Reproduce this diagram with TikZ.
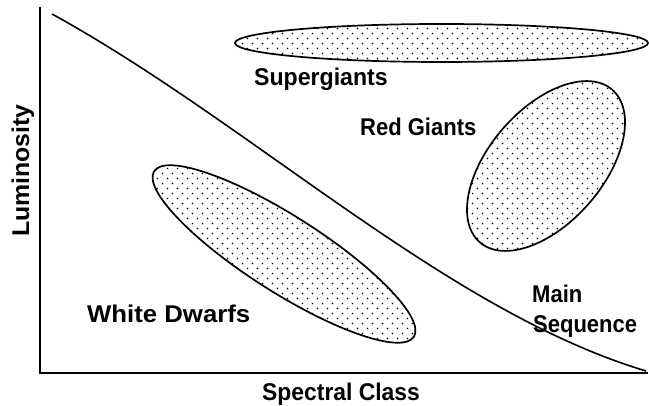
\documentclass[tikz,border=0pt]{standalone}
\usepackage{fontspec}
\setmainfont{Liberation Sans}
\usepackage{graphicx}
\usetikzlibrary{shapes.geometric,patterns}
\pgfdeclarepatternformonly{sparsedots}{\pgfpoint{-1pt}{-1pt}}{\pgfpoint{11pt}{11pt}}{\pgfpoint{10pt}{10pt}}{%
  \pgfpathcircle{\pgfpoint{2.5pt}{2.5pt}}{0.85pt}%
  \pgfpathcircle{\pgfpoint{7.5pt}{7.5pt}}{0.85pt}%
  \pgfusepath{fill}}
\tikzset{
  region/.style={ellipse, draw=black, line width=1.7pt, pattern=sparsedots, pattern color=black, inner sep=0pt},
  lbl/.style={font=\bfseries\fontsize{22}{22}\selectfont, inner sep=0pt, anchor=base west},
  axisline/.style={line width=1.7pt},
  seqline/.style={line width=1.6pt}
}
\begin{document}
\begin{tikzpicture}[x=1pt,y=1pt]
\useasboundingbox (0,0) rectangle (649,406);
% axes
\coordinate (ytop) at (40,399);
\coordinate (origin) at (40,33);
\coordinate (xend) at (648,33);
\draw[axisline] (ytop) -- (origin) -- (xend);
% main sequence curve
\coordinate (msA) at (52,392);
\coordinate (msB) at (646,35);
\draw[seqline] (msA) .. controls (252,282) and (446,95) .. (msB);
% regions
\node[region, minimum width=413pt, minimum height=38pt] (sg) at (441.5,363) {};
\node[region, minimum width=202pt, minimum height=114pt, rotate=49] (rg) at (546,240) {};
\node[region, minimum width=308pt, minimum height=76pt, rotate=-32.5] (wd) at (284,152) {};
% labels
\node[lbl] (tsg) at (254,320) {\scalebox{1.05}[1.1]{Supergiants}};
\node[lbl] (trg) at (360,270) {\scalebox{1}[1.1]{Red Giants}};
\node[lbl] (twd) at (87,83) {\scalebox{1.17}[1.1]{White Dwarfs}};
\node[lbl] (tmain) at (532,103) {\scalebox{1}[1.1]{Main}};
\node[lbl] (tseq) at (533,73) {\scalebox{1}[1.1]{Sequence}};
\node[lbl] (tsc) at (262,5) {\scalebox{1.04}[1.1]{Spectral Class}};
\node[lbl, rotate=90] (tlum) at (29,169) {\scalebox{1.13}[1.1]{Luminosity}};
\end{tikzpicture}
\end{document}
